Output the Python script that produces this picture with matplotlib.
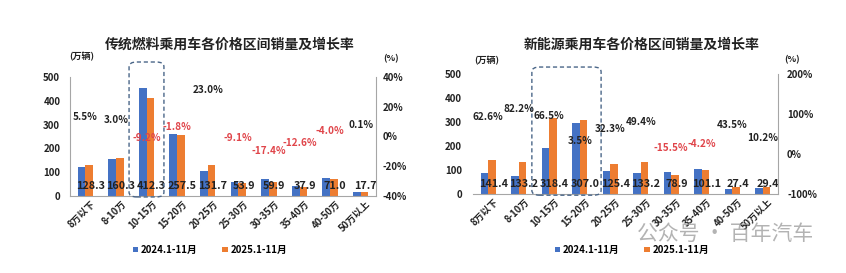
import matplotlib
matplotlib.use("Agg")
import matplotlib.pyplot as plt
import matplotlib.transforms as mtransforms
from matplotlib.patches import FancyBboxPatch
import numpy as np

plt.rcParams['font.family'] = ['Noto Sans CJK SC', 'DejaVu Sans']
plt.rcParams['font.weight'] = 'bold'

categories = ['8万以下', '8-10万', '10-15万', '15-20万', '20-25万', '25-30万',
              '30-35万', '35-40万', '40-50万', '50万以上']
series_names = ['2024.1-11月', '2025.1-11月']

# Traditional fuel (万辆)
fuel_2024 = [121.6, 155.6, 454.1, 262.2, 107.1, 59.3, 72.5, 43.4, 74.0, 17.7]
fuel_2025 = [128.3, 160.3, 412.3, 257.5, 131.7, 53.9, 59.9, 37.9, 71.0, 17.7]
fuel_growth = [5.5, 3.0, -9.2, -1.8, 23.0, -9.1, -17.4, -12.6, -4.0, 0.1]

# New energy (万辆)
nev_2024 = [87.0, 73.1, 191.2, 296.6, 94.8, 89.2, 93.4, 105.5, 19.1, 26.7]
nev_2025 = [141.4, 133.2, 318.4, 307.0, 125.4, 133.2, 78.9, 101.1, 27.4, 29.4]
nev_growth = [62.6, 82.2, 66.5, 3.5, 32.3, 49.4, -15.5, -4.2, 43.5, 10.2]

BLUE = '#4472C4'
ORANGE = '#ED7D31'
RED = '#E0454A'
TXT = '#222222'
AXC = '#a6a6a6'

W, H = 846, 273
fig = plt.figure(figsize=(W / 100, H / 100), dpi=100)


def px(x0, y0, x1, y1):
    return [x0 / W, 1 - y1 / H, (x1 - x0) / W, (y1 - y0) / H]


def draw(rect, v24, v25, growth, glim, gticks, title, title_x, unit_l, unit_r,
         box, left_spine, leg_x, lpad, rpad):
    ax = fig.add_axes(rect)
    x = np.arange(len(categories))
    bw = 0.25
    ax.bar(x - bw / 2, v24, bw, color=BLUE, label=series_names[0], zorder=2)
    ax.bar(x + bw / 2, v25, bw, color=ORANGE, label=series_names[1], zorder=2)
    ax.set_xlim(-0.5, len(categories) - 0.5)
    ax.set_ylim(0, 500)
    ax.set_yticks([0, 100, 200, 300, 400, 500])
    ax.tick_params(axis='y', length=0, pad=lpad, labelsize=7, labelcolor=TXT)
    ax.tick_params(axis='x', length=0, pad=2, labelsize=6.8, labelcolor=TXT)
    ax.set_xticks(x)
    ax.set_xticklabels(categories, rotation=45, ha='right', rotation_mode='anchor')
    shift = mtransforms.ScaledTranslation(5 / 100, 0, fig.dpi_scale_trans)
    for lab in ax.get_xticklabels():
        lab.set_transform(lab.get_transform() + shift)
    for lab in ax.get_xticklabels() + ax.get_yticklabels():
        lab.set_fontweight('bold')
    for s in ['top', 'right']:
        ax.spines[s].set_visible(False)
    ax.spines['left'].set_visible(left_spine)
    ax.spines['left'].set_color(AXC)
    ax.spines['bottom'].set_color(AXC)

    for i, v in enumerate(v25):
        ax.annotate(f'{v:.1f}', xy=(i + 0.17, 0), xytext=(0, 7.5), textcoords='offset points',
                    ha='center', va='center', fontsize=7.8, fontweight='bold',
                    color=TXT, zorder=4)

    ax2 = ax.twinx()
    ax2.set_ylim(*glim)
    ax2.set_yticks(gticks)
    ax2.set_yticklabels([f'{t}%' for t in gticks])
    ax2.tick_params(axis='y', length=0, pad=rpad, labelsize=7, labelcolor=TXT)
    for lab in ax2.get_yticklabels():
        lab.set_fontweight('bold')
    for s in ['top', 'left', 'bottom']:
        ax2.spines[s].set_visible(False)
    ax2.spines['right'].set_color(AXC)
    for i, g in enumerate(growth):
        ax2.annotate(f'{g:.1f}%', xy=(i, g), xytext=(0, 8.5), textcoords='offset points',
                     ha='center', va='center', fontsize=7.2, fontweight='bold',
                     color=RED if g < 0 else TXT)

    bx0, bx1, by0, by1 = box
    patch = FancyBboxPatch((bx0, by0), bx1 - bx0, by1 - by0,
                           boxstyle='round,pad=0,rounding_size=0.25',
                           mutation_aspect=80,
                           fill=False, ec='#4a6688', lw=1.0, ls=(0, (3, 2)),
                           clip_on=False, zorder=5)
    ax.add_patch(patch)

    fig.text(title_x / W, 1 - 45 / H, title, ha='center', va='center',
             fontsize=10, fontweight='bold', color=TXT)
    fig.text(unit_l[0] / W, 1 - unit_l[1] / H, '(万辆)', ha='center', va='center',
             fontsize=6.5, fontweight='bold', color=TXT)
    fig.text(unit_r[0] / W, 1 - unit_r[1] / H, '(%)', ha='center', va='center',
             fontsize=6.5, fontweight='bold', color=TXT)

    ax.legend(loc='center', bbox_to_anchor=(leg_x / W, 1 - 250 / H),
              bbox_transform=fig.transFigure, ncol=2, frameon=False,
              handlelength=0.55, handleheight=0.55, handletextpad=0.3,
              columnspacing=2.5, prop={'weight': 'bold', 'size': 7})
    return ax


draw(px(70, 77, 376, 196), fuel_2024, fuel_2025, fuel_growth, (-40, 40),
     [-40, -20, 0, 20, 40], '传统燃料乘用车各价格区间销量及增长率', 230,
     (82, 57), (391, 59), (1.43, 2.57, -4, 563), True, 210, 7, 5)

draw(px(473, 74, 778, 194), nev_2024, nev_2025, nev_growth, (-100, 200),
     [-100, 0, 100, 200], '新能源乘用车各价格区间销量及增长率', 642,
     (487, 61), (792, 60), (1.43, 3.70, -5, 529), False, 632, 8, 6.5)

fig.text(725 / W, 1 - 234 / H, '公众号 · 百年汽车', ha='center', va='center',
         fontsize=15, fontweight='normal', color='#9a9a9a', alpha=0.75)

fig.savefig('out.png', dpi=100)
